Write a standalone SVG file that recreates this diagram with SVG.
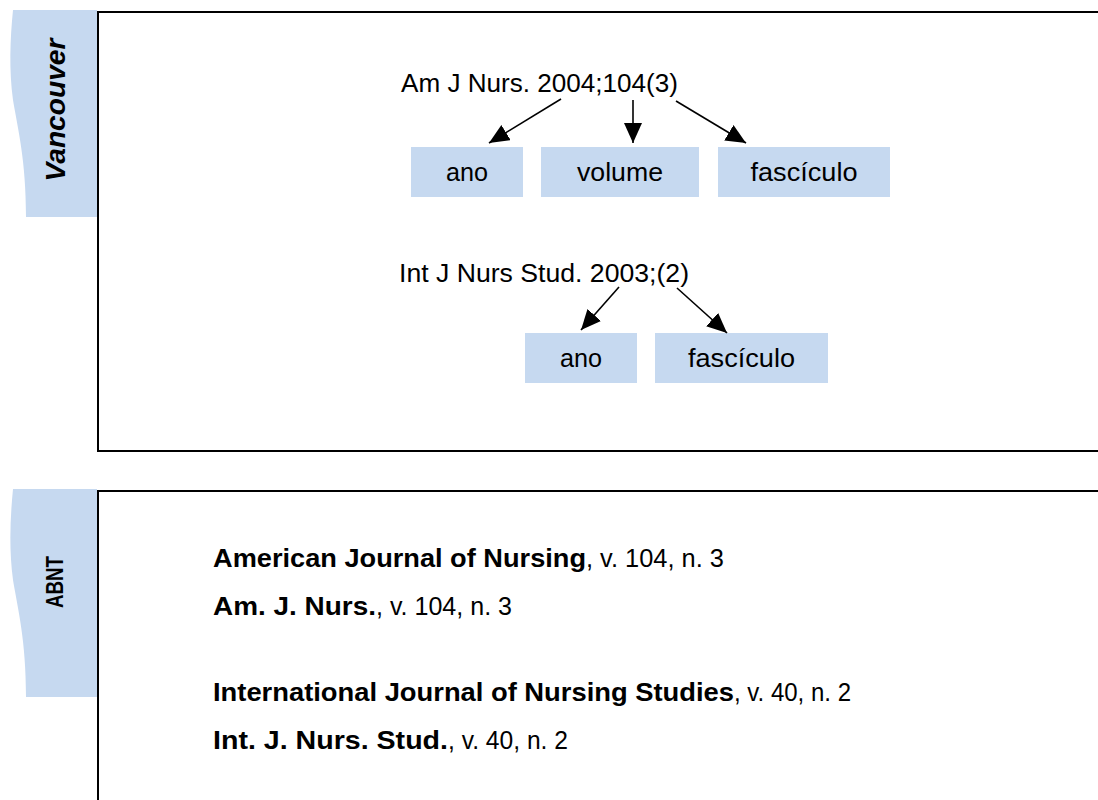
<svg xmlns="http://www.w3.org/2000/svg" width="1098" height="800" viewBox="0 0 1098 800">
<defs>
<style>
.frame{fill:none;stroke:#000;stroke-width:2}
.tab{fill:#c6d9f0;stroke:none}
.lbl{fill:#c6d9f0;stroke:none}
.t{font-family:"Liberation Sans",Arial,Helvetica,sans-serif;font-size:25px;fill:#000}
.r{font-family:"Liberation Sans",Arial,Helvetica,sans-serif;font-size:26px;fill:#000}
.b{font-weight:bold}
.side{font-family:"Liberation Sans",Arial,Helvetica,sans-serif;font-weight:bold;fill:#000}
.c{stroke:#000;stroke-width:1.6;fill:none;marker-end:url(#ah)}
</style>
<marker id="ah" markerUnits="userSpaceOnUse" markerWidth="22" markerHeight="20" refX="20" refY="9" orient="auto">
<path d="M0,0 L20,9 L0,18 Z" fill="#000"/>
</marker>
</defs>
<rect width="1098" height="800" fill="#fff"/>

<g id="vancouver-panel">
<path class="tab" d="M13,10 H97 V217 H26 C26,160 18,130 13,100 C9,70 10,40 13,10 Z"/>
<text class="side" font-style="italic" font-size="27" text-anchor="middle" textLength="143" lengthAdjust="spacingAndGlyphs" transform="translate(65,110) rotate(-90)">Vancouver</text>
<path class="frame" d="M1100,12 H98 V451 H1100"/>
</g>

<g id="abnt-panel">
<path class="tab" d="M13,489 H97 V697 H26 C26,640 18,610 13,580 C9,550 10,520 13,489 Z"/>
<text class="side" font-size="23" text-anchor="middle" textLength="52" lengthAdjust="spacingAndGlyphs" transform="translate(63,582) rotate(-90)">ABNT</text>
<path class="frame" d="M1100,491 H98 V802"/>
</g>

<g id="src1">
<text class="t" x="401" y="92" textLength="277" lengthAdjust="spacingAndGlyphs">Am J Nurs. 2004;104(3)</text>
</g>
<g id="ano1">
<rect class="lbl" x="411" y="147" width="112" height="50"/>
<text class="t" x="467" y="181" text-anchor="middle" textLength="42" lengthAdjust="spacingAndGlyphs">ano</text>
</g>
<g id="volume1">
<rect class="lbl" x="541" y="147" width="158" height="50"/>
<text class="t" x="620" y="181" text-anchor="middle" textLength="86" lengthAdjust="spacingAndGlyphs">volume</text>
</g>
<g id="fasciculo1">
<rect class="lbl" x="718" y="147" width="172" height="50"/>
<text class="t" x="804" y="181" text-anchor="middle" textLength="107" lengthAdjust="spacingAndGlyphs">fascículo</text>
</g>

<g id="src2">
<text class="t" x="399" y="282" textLength="290" lengthAdjust="spacingAndGlyphs">Int J Nurs Stud. 2003;(2)</text>
</g>
<g id="ano2">
<rect class="lbl" x="525" y="333" width="112" height="50"/>
<text class="t" x="581" y="367" text-anchor="middle" textLength="42" lengthAdjust="spacingAndGlyphs">ano</text>
</g>
<g id="fasciculo2">
<rect class="lbl" x="655" y="333" width="173" height="50"/>
<text class="t" x="741.5" y="367" text-anchor="middle" textLength="107" lengthAdjust="spacingAndGlyphs">fascículo</text>
</g>

<g id="connectors">
<line class="c" x1="561" y1="99" x2="489" y2="143"/>
<line class="c" x1="633" y1="100" x2="633" y2="143"/>
<line class="c" x1="676" y1="101" x2="746" y2="143"/>
<line class="c" x1="619" y1="287" x2="581" y2="330"/>
<line class="c" x1="677" y1="288" x2="727" y2="333"/>
</g>

<g id="abnt-text">
<text class="r b" x="213" y="567" textLength="373" lengthAdjust="spacingAndGlyphs">American Journal of Nursing</text>
<text class="r" x="586" y="567" textLength="138" lengthAdjust="spacingAndGlyphs">, v. 104, n. 3</text>
<text class="r b" x="213" y="615" textLength="163" lengthAdjust="spacingAndGlyphs">Am. J. Nurs.</text>
<text class="r" x="376" y="615" textLength="136" lengthAdjust="spacingAndGlyphs">, v. 104, n. 3</text>
<text class="r b" x="213" y="701" textLength="521" lengthAdjust="spacingAndGlyphs">International Journal of Nursing Studies</text>
<text class="r" x="734" y="701" textLength="117" lengthAdjust="spacingAndGlyphs">, v. 40, n. 2</text>
<text class="r b" x="213" y="749" textLength="235" lengthAdjust="spacingAndGlyphs">Int. J. Nurs. Stud.</text>
<text class="r" x="448" y="749" textLength="120" lengthAdjust="spacingAndGlyphs">, v. 40, n. 2</text>
</g>
</svg>
